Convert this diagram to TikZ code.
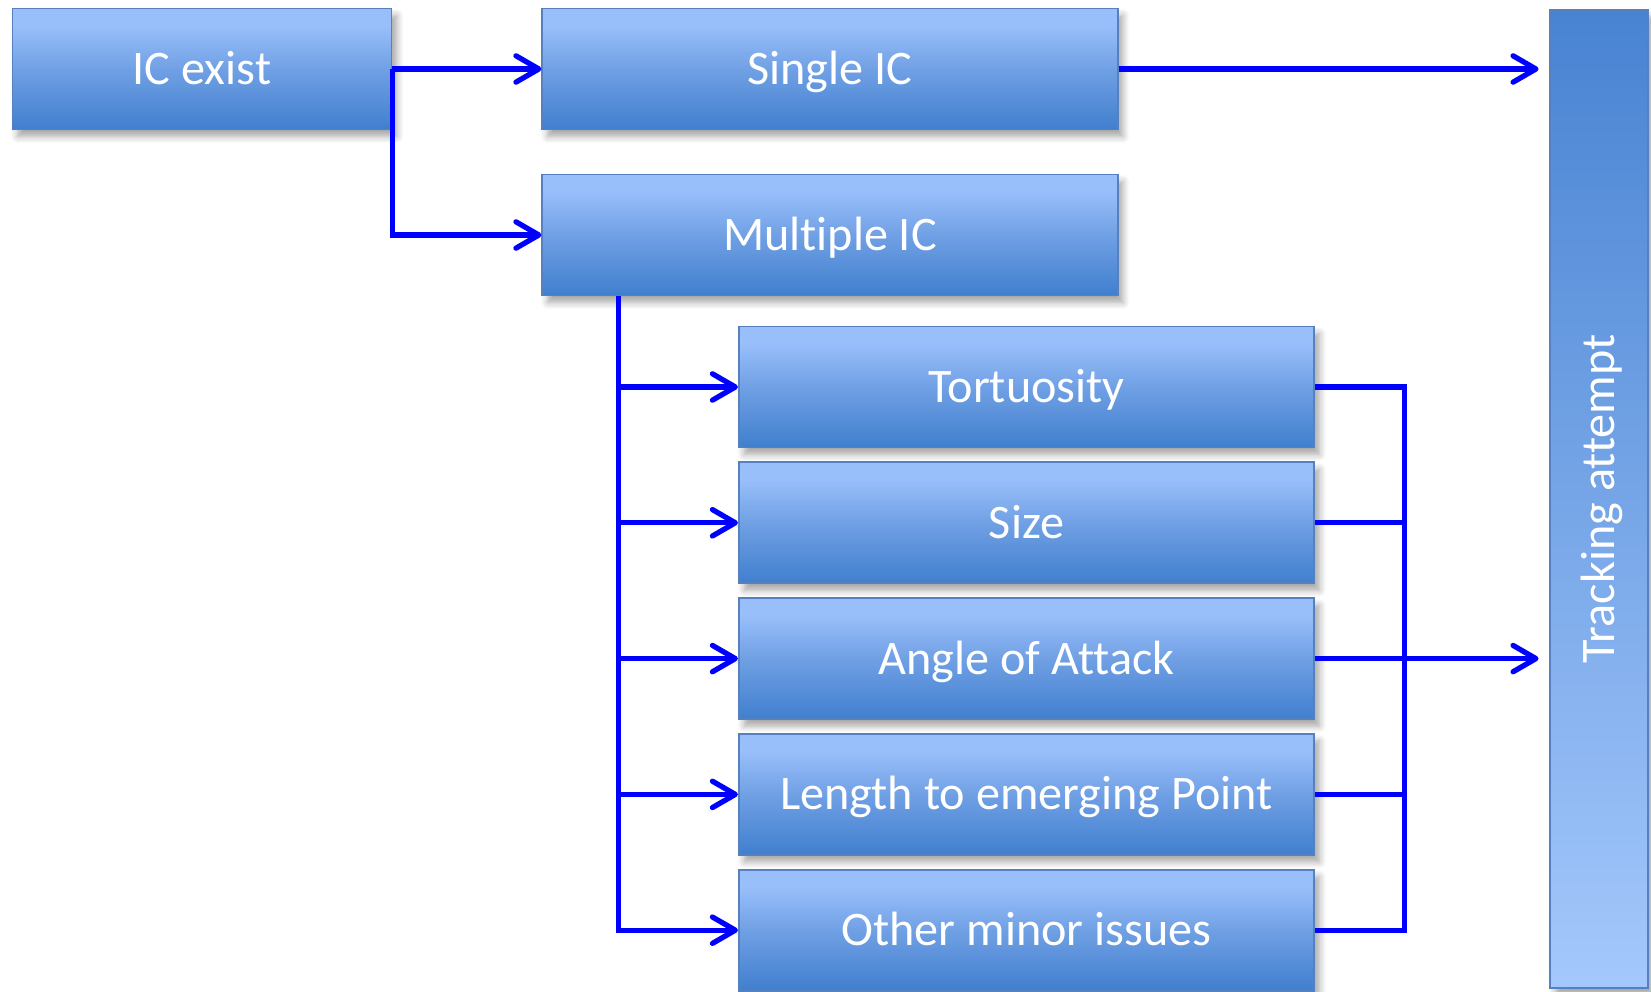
\documentclass[tikz,border=0pt]{standalone}
\usepackage{fontspec}
\setmainfont{Carlito}[Ligatures=NoCommon]
\usetikzlibrary{arrows.meta,shadows.blur}

\definecolor{boxlight}{RGB}{153,191,251}
\definecolor{boxmid}{RGB}{112,160,228}
\definecolor{boxdark}{RGB}{64,127,206}
\definecolor{boxedge}{RGB}{86,128,190}
\definecolor{trackdark}{RGB}{72,131,210}
\definecolor{tracklight}{RGB}{164,200,252}
\definecolor{wireblue}{RGB}{0,0,255}

% light at the top, darker towards the bottom
\pgfdeclareverticalshading{boxshade}{100bp}{color(0bp)=(boxdark); color(25bp)=(boxdark); color(50bp)=(boxmid); color(68bp)=(boxlight); color(100bp)=(boxlight)}

\tikzset{
  block/.style={draw=boxedge, line width=0.5pt, shading=boxshade, text=white,
    minimum height=1.21cm, font=\fontsize{13.7}{16}\selectfont,
    text height=8.8pt, text depth=0pt,
    blur shadow={shadow xshift=1.5pt, shadow yshift=-2pt, shadow blur steps=6, shadow opacity=35}},
  trackbox/.style={block, rotate=90, minimum width=9.78cm, minimum height=0.98cm,
    top color=trackdark, bottom color=tracklight},
  link/.style={draw=wireblue, line width=1.5pt},
  arr/.style={link, -{Straight Barb[length=6.5pt, width=7.5pt, round]}},
}

\begin{document}
\begin{tikzpicture}[x=0.01cm, y=-0.01cm]
  \useasboundingbox (0,0) rectangle (1651,992);

  % top part
  \node[block, minimum width=3.79cm] (icexist) at (202,69) {IC exist};
  \node[block, minimum width=5.75cm] (single) at (830,69) {Single IC};
  \node[block, minimum width=5.75cm] (multi) at (830,235) {Multiple IC};
  \node[trackbox] (track) at (1599,499) {Tracking attempt};

  % criteria under multiple IC
  \foreach \i/\name/\txt in {0/tort/Tortuosity, 1/size/Size, 2/angle/Angle of Attack,
      3/length/Length to emerging Point, 4/other/Other minor issues}
    \node[block, minimum width=5.75cm] (\name) at (1026.5,387+135.8*\i) {\txt};

  \draw[arr] (icexist.east) -- (single.west);
  \draw[arr] (icexist.east) |- (multi.west);
  % track is rotated, so its north anchor is the left side
  \draw[arr, shorten >=3pt] (single.east) -- (single.east -| track.north);

  \coordinate (busL) at ([xshift=0.77cm]multi.south west);
  \coordinate (busR) at ([xshift=0.895cm]tort.east);
  \foreach \name in {tort,size,angle,length,other}
    \draw[arr] (busL) |- (\name.west);
  \draw[link] (tort.east) -- (busR) |- (other.east);
  \foreach \name in {size,length}
    \draw[link] (\name.east) -- (\name.east -| busR);
  \draw[arr, shorten >=3pt] (angle.east) -- (angle.east -| track.north);
\end{tikzpicture}
\end{document}
